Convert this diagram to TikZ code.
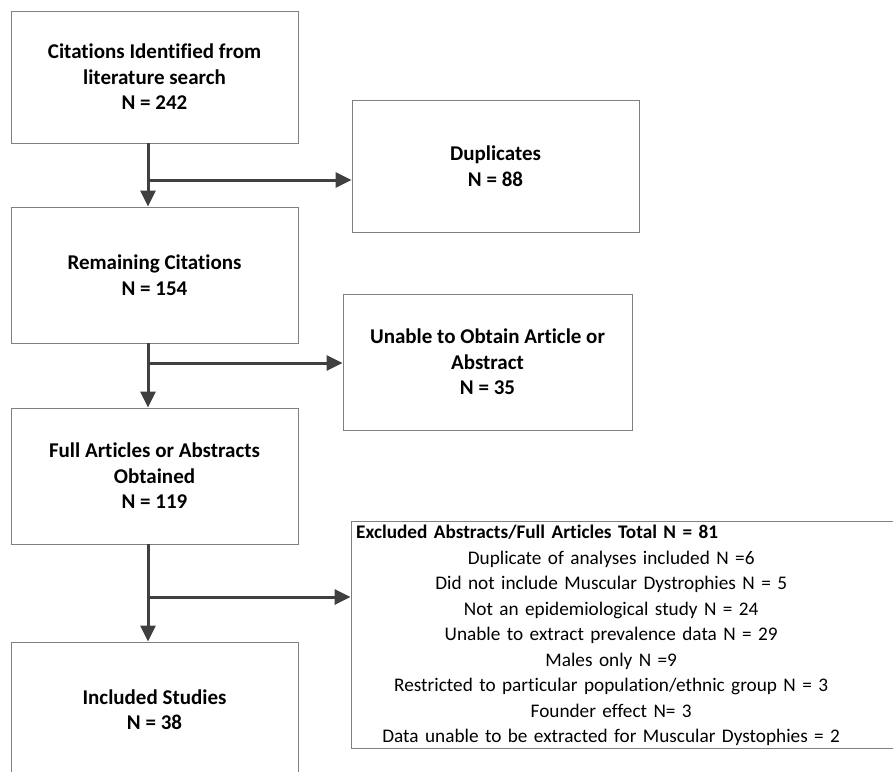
\documentclass[tikz,border=0pt]{standalone}
\usepackage{fontspec}
\setmainfont{Carlito}[Ligatures={NoCommon}]
\usetikzlibrary{
    arrows.meta,
    calc,
    positioning
}
\tikzset{
    stagebox/.style={draw=black!50, line width=0.8pt, rectangle, align=center,
        font=\fontsize{21}{25.5}\selectfont\bfseries, inner sep=0pt},
    flowarrow/.style={-{Triangle[length=16pt, width=15pt]}, line width=3pt, black!75},
    itemlist/.style={align=center, text width=510pt, inner sep=0pt,
        font=\fontsize{19.25}{25.5}\selectfont}
}

\begin{document}
\begin{tikzpicture}[x=1pt, y=-1pt]
    \useasboundingbox (0,0) rectangle (893,771);
    % left column
    \node[stagebox, minimum width=287pt, minimum height=132pt] (cit) at (154.5,77)
        {Citations Identified from\\literature search\\N = 242};
    \node[stagebox, minimum width=287pt, minimum height=136pt] (rem) at (154.5,275)
        {Remaining Citations\\N = 154};
    \node[stagebox, minimum width=287pt, minimum height=136pt] (full) at (154.5,476)
        {Full Articles or Abstracts\\Obtained\\N = 119};
    \node[stagebox, minimum width=287pt, minimum height=135pt] (incl) at (154.5,709.5)
        {Included Studies\\N = 38};
    % right column
    \node[stagebox, minimum width=287pt, minimum height=132pt] (dup) at (495.5,166)
        {Duplicates\\N = 88};
    \node[stagebox, minimum width=289pt, minimum height=136pt] (unab) at (487.5,362)
        {Unable to Obtain Article or\\Abstract\\N = 35};
    \node[stagebox, minimum width=560pt, minimum height=227pt] (excl) at (631,634.5) {};
    \node[itemlist, anchor=north west] (exclitems) at (356,525) {%
        \makebox[\linewidth][l]{\bfseries Excluded Abstracts/Full Articles Total N = 81}\\
        Duplicate of analyses included N =6\\
        Did not include Muscular Dystrophies N = 5\\
        Not an epidemiological study N = 24\\
        Unable to extract prevalence data N = 29\\
        Males only N =9\\
        Restricted to particular population/ethnic group N = 3\\
        Founder effect N= 3\\
        Data unable to be extracted for Muscular Dystophies = 2};
    % connectors
    \foreach \a/\b in {cit/rem, rem/full, full/incl}{
        \draw[flowarrow] ([xshift=-6.5pt]\a.south) -- ([xshift=-6.5pt]\b.north);
    }
    \foreach \y/\t in {180/dup, 363/unab, 597/excl}{
        \coordinate (j) at (148,\y);
        \draw[flowarrow] (j) -- (j -| \t.west);
    }
\end{tikzpicture}
\end{document}
